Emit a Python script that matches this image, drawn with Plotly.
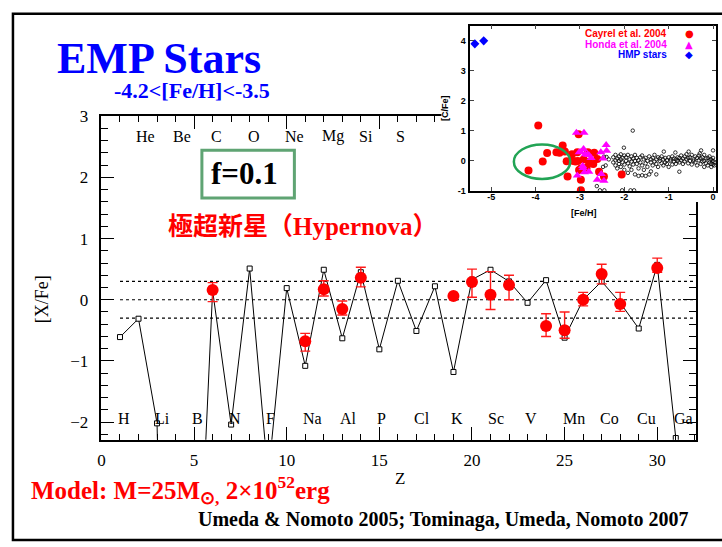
import plotly.graph_objects as go

W, H = 722, 547
def px(x): return x / W
def py(y): return 1 - y / H

# ---------------- main panel data ----------------
model_Z = list(range(1, 32))
model_XFe = [-0.61, -0.31, -2.02, -15.0, -6.5, 0.15, -2.04, 0.51, -2.9, 0.19,
             -1.08, 0.49, -0.63, 0.45, -0.81, 0.31, -0.51, 0.22, -1.18, 0.33,
             0.49, 0.30, -0.05, 0.32, -0.62, 0.0, 0.30, -0.05, -0.47, 0.57, -2.26]

obs_Z = [6, 11, 12, 13, 14, 19, 20, 21, 22, 24, 25, 26, 27, 28, 30]
obs_XFe = [0.16, -0.68, 0.17, -0.15, 0.36, 0.06, 0.29, 0.08, 0.24, -0.43, -0.50, 0.0, 0.42, -0.07, 0.52]
obs_err_plus = [0.12, 0.13, 0.14, 0.13, 0.17, 0.0, 0.21, 0.38, 0.16, 0.20, 0.30, 0.12, 0.16, 0.19, 0.16]
obs_err_minus = [0.19, 0.16, 0.11, 0.10, 0.15, 0.0, 0.25, 0.24, 0.24, 0.17, 0.13, 0.10, 0.16, 0.12, 0.07]

elem_bottom = ["H", "Li", "B", "N", "F", "Na", "Al", "P", "Cl", "K", "Sc", "V", "Mn", "Co", "Cu", "Ga"]
elem_bottom_Z = [1, 3, 5, 7, 9, 11, 13, 15, 17, 19, 21, 23, 25, 27, 29, 31]
elem_top = ["He", "Be", "C", "O", "Ne", "Mg", "Si", "S"]
elem_top_Z = [2, 4, 6, 8, 10, 12, 14, 16]
elem_bottom_level = -1.94
elem_top_level = 2.67

ref_levels = [0.3, 0.0, -0.3]
ref_span = [1, 31.95]

x_ticks = [0, 5, 10, 15, 20, 25, 30]
y_ticks = [-2, -1, 0, 1, 2, 3]

# ---------------- inset data ----------------
cayrel_FeH = [-3.94, -4.16, -3.84, -3.74, -3.53, -3.46, -3.39, -3.34, -3.30, -3.28,
              -3.18, -3.10, -3.03, -3.06, -3.05, -2.98, -2.98, -2.98, -2.82, -2.68,
              -2.61, -2.80, -2.85, -2.57, -2.46, -2.06, -3.02, -2.92, -2.70, -3.15]
cayrel_CFe = [1.18, -0.32, -0.02, 0.26, 0.29, 0.27, 0.51, 0.31, -0.01, -0.52,
              0.22, -0.02, 0.89, 0.29, 0.00, -0.25, -0.63, -0.98, 0.29, 0.27,
              0.06, -0.03, -0.23, -0.36, -0.52, -0.45, -0.30, 0.05, -0.10, 0.00]

honda_FeH = [-3.08, -2.91, -2.92, -2.80, -2.88, -2.53, -2.41, -2.40, -2.94, -2.80,
             -2.90, -3.06, -2.52, -3.02, -2.83, -2.61, -2.46, -2.48, -2.93, -2.75, -2.98]
honda_CFe = [0.94, 0.94, 0.40, 0.20, 0.22, 0.29, 0.53, 0.34, -0.17, -0.36,
             -0.38, -0.49, -0.44, 0.29, 0.21, -0.63, -0.66, 0.08, -0.24, 0.10, 0.30]

hmp_FeH = [-5.37, -5.17]
hmp_CFe = [3.90, 4.00]

other_FeH = [-2.95, -2.55, -2.45, -2.05, -1.86, -1.78, -2.62, -2.48, -2.46, -2.42,
             -2.40, -2.35, -2.01, -1.81, -1.11, -0.55, -0.27, 0.00, -0.85, -0.30,
             -2.25, -2.25, -2.20, -2.20, -2.20, -2.16, -2.16, -2.12, -2.12, -2.12,
             -2.08, -2.08, -2.08, -2.04, -2.04, -2.00, -2.00, -2.00, -1.96, -1.96,
             -1.92, -1.92, -1.92, -1.88, -1.88, -1.84, -1.84, -1.84, -1.80, -1.80,
             -1.76, -1.76, -1.76, -1.72, -1.72, -1.68, -1.68, -1.68, -1.64, -1.64,
             -1.60, -1.60, -1.60, -1.56, -1.56, -1.52, -1.52, -1.52, -1.48, -1.48,
             -1.44, -1.44, -1.40, -1.40, -1.40, -1.36, -1.36, -1.32, -1.32, -1.28,
             -1.28, -1.28, -1.24, -1.24, -1.20, -1.20, -1.16, -1.16, -1.12, -1.12,
             -1.08, -1.08, -1.04, -1.04, -1.00, -1.00, -0.96, -0.96, -0.92, -0.92,
             -0.88, -0.88, -0.84, -0.84, -0.80, -0.80, -0.76, -0.76, -0.76, -0.72,
             -0.72, -0.68, -0.68, -0.64, -0.64, -0.60, -0.60, -0.56, -0.56, -0.52,
             -0.52, -0.48, -0.48, -0.44, -0.44, -0.40, -0.40, -0.36, -0.36, -0.32,
             -0.32, -0.28, -0.28, -0.24, -0.24, -0.20, -0.20, -0.20, -0.16, -0.16,
             -0.12, -0.12, -0.08, -0.08, -0.08, -0.04, -0.04, -0.04, 0.00, 0.00,
             0.00, 0.03, 0.03]
other_CFe = [-0.98, -0.98, -0.98, -0.98, -0.98, -0.98, -0.84, -0.20, 0.14, -0.15,
             0.13, 0.05, 0.44, 1.01, 0.31, 0.31, 0.35, 0.35, 0.28, 0.25,
             0.12, -0.05, 0.20, 0.02, -0.15, -0.25, 0.08, 0.15, -0.10, 0.00,
             0.05, -0.20, 0.22, -0.05, 0.10, 0.18, -0.12, -0.30, 0.00, 0.12,
             -0.08, 0.20, -0.40, 0.05, -0.18, 0.15, -0.02, -0.30, 0.08, -0.12,
             -0.45, 0.20, 0.00, -0.10, 0.10, 0.02, -0.25, -0.50, 0.12, -0.05,
             -0.15, 0.18, -0.48, 0.05, -0.30, -0.08, 0.10, -0.50, 0.00, -0.20,
             0.15, -0.45, -0.05, 0.05, -0.35, 0.10, -0.15, -0.02, 0.20, 0.05,
             -0.10, -0.45, -0.20, 0.12, 0.00, 0.08, -0.08, 0.15, 0.05, -0.15,
             0.10, -0.05, -0.10, 0.02, 0.12, -0.20, 0.00, 0.05, -0.12, 0.15,
             0.08, -0.02, 0.05, -0.10, 0.12, 0.00, -0.05, 0.10, -0.36, 0.02,
             0.18, -0.10, 0.08, 0.15, -0.02, 0.05, 0.22, -0.08, 0.10, 0.00,
             0.12, 0.20, -0.12, 0.05, 0.00, -0.05, 0.15, 0.10, -0.15, 0.02,
             0.18, -0.10, 0.08, 0.12, -0.02, 0.00, -0.20, 0.20, 0.08, -0.08,
             -0.15, 0.10, 0.02, -0.05, 0.15, -0.10, 0.05, -0.20, 0.00, -0.12,
             0.10, -0.05, -0.15]

ellipse_FeH = [-4.49, -3.22]
ellipse_CFe = [-0.60, 0.55]
inset_x_ticks = [-5, -4, -3, -2, -1, 0]
inset_y_ticks = [-1, 0, 1, 2, 3, 4]

SERIF = "Liberation Serif, Times New Roman, serif"
SANS = "Liberation Sans, Arial, sans-serif"

fig = go.Figure()

# main panel traces
for lev in ref_levels:
    fig.add_trace(go.Scatter(x=ref_span, y=[lev, lev], mode="lines",
                             line=dict(color="black", width=1.1, dash="dot"),
                             hoverinfo="skip", xaxis="x", yaxis="y"))
fig.add_trace(go.Scatter(x=model_Z, y=model_XFe, mode="lines+markers",
                         line=dict(color="black", width=1),
                         marker=dict(symbol="square", size=5, color="white",
                                     line=dict(color="black", width=1)),
                         xaxis="x", yaxis="y"))
fig.add_trace(go.Scatter(x=obs_Z, y=obs_XFe, mode="markers",
                         marker=dict(symbol="circle", size=12, color="#ff0000"),
                         error_y=dict(type="data", symmetric=False, array=obs_err_plus,
                                      arrayminus=obs_err_minus, color="#ff1a1a",
                                      thickness=1.4, width=5),
                         xaxis="x", yaxis="y"))

# cover subplot (white region where the inset sits)
fig.add_trace(go.Scatter(x=[], y=[], xaxis="x2", yaxis="y2", hoverinfo="skip"))

# inset traces
fig.add_trace(go.Scatter(x=other_FeH, y=other_CFe, mode="markers",
                         marker=dict(symbol="circle-open", size=3.5, color="black",
                                     line=dict(width=0.8)),
                         xaxis="x3", yaxis="y3"))
fig.add_trace(go.Scatter(x=cayrel_FeH, y=cayrel_CFe, mode="markers",
                         marker=dict(symbol="circle", size=8, color="#ff0000"),
                         xaxis="x3", yaxis="y3"))
fig.add_trace(go.Scatter(x=honda_FeH, y=honda_CFe, mode="markers",
                         marker=dict(symbol="triangle-up", size=8, color="#ff00ff"),
                         xaxis="x3", yaxis="y3"))
fig.add_trace(go.Scatter(x=hmp_FeH, y=hmp_CFe, mode="markers",
                         marker=dict(symbol="diamond", size=7, color="#0000ff"),
                         xaxis="x3", yaxis="y3"))

main_ax = dict(showgrid=False, zeroline=False, showline=True, linecolor="black",
               linewidth=1.5, mirror="ticks", ticks="inside", tickcolor="black",
               tickwidth=1, ticklen=13, tickfont=dict(family=SERIF, size=17, color="black"))

fig.update_layout(
    width=W, height=H, margin=dict(l=0, r=0, t=0, b=0),
    paper_bgcolor="white", plot_bgcolor="white", showlegend=False,
    xaxis=dict(domain=[px(98), px(696)], range=[0, 32.1], anchor="y",
               tickvals=x_ticks, ticklabelstandoff=4,
               minor=dict(dtick=1, tick0=0, ticks="inside", ticklen=6, tickcolor="black"),
               **main_ax),
    yaxis=dict(domain=[py(442), py(110)], range=[-2.287, 3.0], anchor="x",
               tickvals=y_ticks, ticklabelstandoff=8,
               minor=dict(dtick=0.2, tick0=0, ticks="inside", ticklen=7, tickcolor="black"),
               **main_ax),
    xaxis2=dict(domain=[px(440), 1], range=[0, 1], anchor="y2", visible=False),
    yaxis2=dict(domain=[py(198), 1], range=[0, 1], anchor="x2", visible=False),
    xaxis3=dict(domain=[px(469), px(716)], range=[-5.47, 0.067], anchor="y3",
                showgrid=False, zeroline=False, showline=True, linecolor="black",
                linewidth=1.5, mirror="ticks", ticks="inside", ticklen=4,
                tickvals=inset_x_ticks, ticktext=[str(v) for v in inset_x_ticks],
                ticklabelstandoff=-4,
                tickfont=dict(family=SANS, size=9, color="black", weight="bold")),
    yaxis3=dict(domain=[py(187), py(17)], range=[-1.01, 4.51], anchor="x3",
                showgrid=False, zeroline=False, showline=True, linecolor="black",
                linewidth=1.5, mirror="ticks", ticks="inside", ticklen=4,
                tickvals=inset_y_ticks, ticktext=[str(v) for v in inset_y_ticks],
                ticklabelstandoff=1,
                tickfont=dict(family=SANS, size=9, color="black", weight="bold")),
)

shapes = [
    dict(type="rect", xref="x2", yref="y2", x0=0, x1=1, y0=0, y1=1,
         fillcolor="white", line=dict(width=0), layer="below"),
    dict(type="circle", xref="x3", yref="y3", x0=ellipse_FeH[0], x1=ellipse_FeH[1],
         y0=ellipse_CFe[0], y1=ellipse_CFe[1], line=dict(color="#22a455", width=2.5)),
    dict(type="rect", xref="paper", yref="paper", x0=px(199), x1=px(292),
         y0=py(194), y1=py(145), line=dict(color="#5fa473", width=3)),
    dict(type="rect", xref="paper", yref="paper", x0=px(9), x1=1.05,
         y0=py(545), y1=py(5), line=dict(color="black", width=2.5), layer="above"),
]
fig.update_layout(shapes=shapes)

ann = []
for name, z in zip(elem_bottom, elem_bottom_Z):
    ann.append(dict(x=z - 0.22, y=elem_bottom_level, xref="x", yref="y", text=name,
                    showarrow=False, xanchor="left", yanchor="middle",
                    font=dict(family=SERIF, size=16, color="black")))
for name, z in zip(elem_top, elem_top_Z):
    ann.append(dict(x=z - 0.22, y=elem_top_level, xref="x", yref="y", text=name,
                    showarrow=False, xanchor="left", yanchor="middle",
                    font=dict(family=SERIF, size=16, color="black")))

def pa(x, y, text, size, color="black", family=SERIF, xanchor="center", bold=False, angle=0):
    t = f"<b>{text}</b>" if bold else text
    ann.append(dict(x=px(x), y=py(y), xref="paper", yref="paper", text=t,
                    showarrow=False, xanchor=xanchor, yanchor="middle", textangle=angle,
                    font=dict(family=family, size=size, color=color)))

pa(156, 51, "EMP Stars", 44, "#0000ff", bold=True)
pa(189, 84, "-4.2&lt;[Fe/H]&lt;-3.5", 22, "#0000ff", bold=True)
pa(242, 169, "f=0.1", 31, "black", bold=True)
pa(163, 223, "極超新星（Hypernova）", 25, "#ff0000",
   family="Liberation Serif, Noto Sans CJK JP, serif", xanchor="left", bold=True)
pa(25, 494, "Model: M=25M<sub>⊙,</sub> 2×10<sup>52</sup>erg", 25, "#ff0000",
   xanchor="left", bold=True)
pa(193, 524, "Umeda &amp; Nomoto 2005; Tominaga, Umeda, Nomoto 2007", 20, "black",
   xanchor="left", bold=True)
pa(39, 298, "[X/Fe]", 18, "black", angle=-90)
pa(398, 482, "Z", 17, "black")

# inset titles and legend
pa(583, 209, "[Fe/H]", 9, "black", family=SANS, bold=True)
pa(444, 102, "[C/Fe]", 9, "black", family=SANS, bold=True, angle=-90)
leg = [("Cayrel et al. 2004", "●", "#ff0000", 25),
       ("Honda et al. 2004", "▲", "#ff00ff", 36),
       ("HMP stars", "◆", "#0000ff", 47)]
for txt, sym, col, yy in leg:
    pa(669, yy, txt, 10, col, family=SANS, xanchor="right", bold=True)
    pa(689, yy, sym, 10, col, family="DejaVu Sans, sans-serif")

fig.update_layout(annotations=ann)
fig.write_html("out.html")
